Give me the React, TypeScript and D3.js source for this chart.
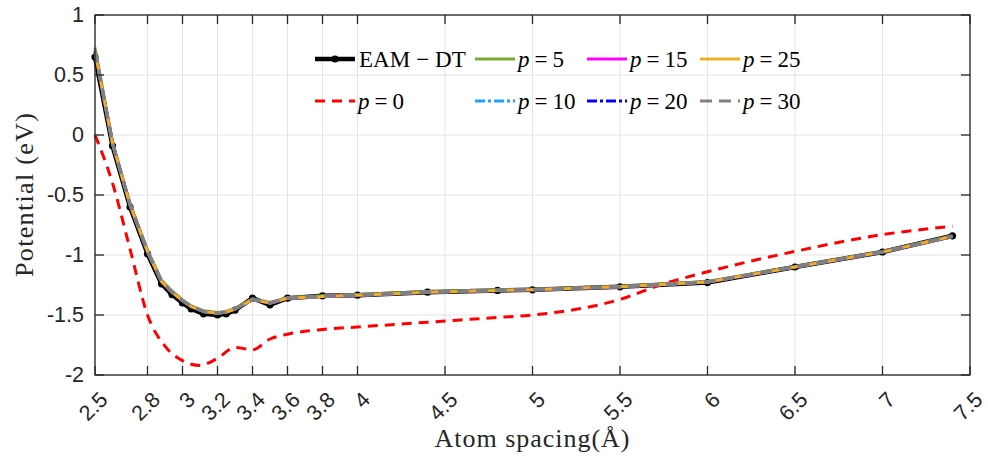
import React from "react";
import * as d3 from "d3";

const xTicks = [2.5, 2.8, 3, 3.2, 3.4, 3.6, 3.8, 4, 4.5, 5, 5.5, 6, 6.5, 7, 7.5];
const yTicks = [1, 0.5, 0, -0.5, -1, -1.5, -2];

const eamX = [2.5, 2.6, 2.7, 2.8, 2.88, 2.94, 3.0, 3.05, 3.12, 3.2, 3.25, 3.3, 3.4, 3.5, 3.6, 3.8, 4.0, 4.4, 4.8, 5.0, 5.5, 6.0, 6.5, 7.0, 7.4];
const eamY = [0.65, -0.09, -0.6, -0.99, -1.24, -1.33, -1.4, -1.45, -1.49, -1.5, -1.49, -1.46, -1.36, -1.415, -1.36, -1.34, -1.335, -1.31, -1.295, -1.29, -1.265, -1.23, -1.1, -0.975, -0.84];

const p0X = [2.5, 2.6, 2.7, 2.8, 2.9, 3.0, 3.1, 3.2, 3.3, 3.4, 3.5, 3.6, 3.8, 4.0, 4.4, 4.8, 5.0, 5.5, 5.75, 6.0, 6.5, 7.0, 7.4];
const p0Y = [0.0, -0.4, -0.95, -1.5, -1.76, -1.88, -1.92, -1.86, -1.77, -1.79, -1.7, -1.66, -1.62, -1.6, -1.56, -1.52, -1.5, -1.37, -1.24, -1.14, -0.97, -0.83, -0.76];

const p5Y = [0.73, -0.06, -0.57, -0.96, -1.21, -1.3, -1.375, -1.425, -1.465, -1.48, -1.47, -1.445, -1.365, -1.395, -1.355, -1.34, -1.33, -1.305, -1.29, -1.285, -1.26, -1.22, -1.095, -0.97, -0.84];
const p10Y = [0.7, -0.07, -0.58, -0.97, -1.22, -1.31, -1.38, -1.43, -1.47, -1.485, -1.475, -1.45, -1.37, -1.4, -1.36, -1.345, -1.335, -1.31, -1.295, -1.29, -1.265, -1.225, -1.1, -0.975, -0.845];
const p15Y = [0.7, -0.07, -0.58, -0.97, -1.22, -1.31, -1.38, -1.43, -1.47, -1.485, -1.475, -1.45, -1.37, -1.4, -1.36, -1.345, -1.335, -1.31, -1.295, -1.29, -1.265, -1.225, -1.1, -0.975, -0.845];
const p20Y = [0.7, -0.07, -0.58, -0.97, -1.22, -1.31, -1.38, -1.43, -1.47, -1.485, -1.475, -1.45, -1.37, -1.4, -1.36, -1.345, -1.335, -1.31, -1.295, -1.29, -1.265, -1.225, -1.1, -0.975, -0.845];
const p25Y = [0.7, -0.07, -0.58, -0.97, -1.22, -1.31, -1.38, -1.43, -1.47, -1.485, -1.475, -1.45, -1.37, -1.4, -1.36, -1.345, -1.335, -1.31, -1.295, -1.29, -1.265, -1.225, -1.1, -0.975, -0.845];
const p30Y = [0.7, -0.07, -0.58, -0.97, -1.22, -1.31, -1.38, -1.43, -1.47, -1.485, -1.475, -1.45, -1.37, -1.4, -1.36, -1.345, -1.335, -1.31, -1.295, -1.29, -1.265, -1.225, -1.1, -0.975, -0.845];

const W = 988;
const H = 465;
const AX = "#262626";
const SERIF = "'Liberation Serif', 'Times New Roman', serif";
const SANS = "'Liberation Sans', Arial, Helvetica, sans-serif";

export default function App() {
  const x = d3.scaleLinear().domain([2.5, 7.5]).range([95, 970]);
  const y = d3.scaleLinear().domain([-2, 1]).range([375, 15]);
  const line = d3
    .line<[number, number]>()
    .x((d) => x(d[0]))
    .y((d) => y(d[1]));
  const smooth = d3
    .line<[number, number]>()
    .x((d) => x(d[0]))
    .y((d) => y(d[1]))
    .curve(d3.curveMonotoneX);
  const zip = (xs: number[], ys: number[]) => xs.map((v, i) => [v, ys[i]] as [number, number]);

  const fitted = [
    { name: "5", ys: p5Y, color: "#77AC30", dash: "", w: 3 },
    { name: "10", ys: p10Y, color: "#1AA3FF", dash: "10,3,3,3", w: 3 },
    { name: "15", ys: p15Y, color: "#FF00FF", dash: "", w: 3 },
    { name: "20", ys: p20Y, color: "#0000FF", dash: "10,3,3,3", w: 3 },
    { name: "25", ys: p25Y, color: "#EDB120", dash: "", w: 3 },
    { name: "30", ys: p30Y, color: "#808080", dash: "12,7", w: 3.5 },
  ];

  const legendItems = [
    { col: 0, row: 0, kind: "eam" },
    { col: 0, row: 1, label: "0", color: "#FF0000", dash: "10,7" },
    { col: 1, row: 0, label: "5", color: "#77AC30", dash: "" },
    { col: 1, row: 1, label: "10", color: "#1AA3FF", dash: "10,3,3,3" },
    { col: 2, row: 0, label: "15", color: "#FF00FF", dash: "" },
    { col: 2, row: 1, label: "20", color: "#0000FF", dash: "10,3,3,3" },
    { col: 3, row: 0, label: "25", color: "#EDB120", dash: "" },
    { col: 3, row: 1, label: "30", color: "#808080", dash: "12,7" },
  ];
  const colX = [315, 475, 587, 700];
  const rowY = [59, 101];

  return (
    <svg
      width={W}
      height={H}
      style={{ position: "absolute", left: 0, top: 0, display: "block", background: "#fff" }}
    >
      <rect x={0} y={0} width={W} height={H} fill="#fff" />
      {/* grid */}
      <g stroke="#e3e3e3" strokeWidth={1}>
        {xTicks.map((t) => (
          <line key={"gx" + t} x1={x(t)} x2={x(t)} y1={y(-2)} y2={y(1)} />
        ))}
        {yTicks.map((t) => (
          <line key={"gy" + t} x1={x(2.5)} x2={x(7.5)} y1={y(t)} y2={y(t)} />
        ))}
      </g>

      {/* EAM-DT */}
      <path d={line(zip(eamX, eamY)) || ""} fill="none" stroke="#000" strokeWidth={4.5} strokeLinejoin="round" />
      {eamX.map((v, i) => (
        <circle key={"m" + i} cx={x(v)} cy={y(eamY[i])} r={3.6} fill="#000" />
      ))}
      {/* p = 0 */}
      <path d={smooth(zip(p0X, p0Y)) || ""} fill="none" stroke="#FF0000" strokeWidth={3} strokeDasharray="10,7" />
      {fitted.map((s) => (
        <path
          key={s.name}
          d={line(zip(eamX, s.ys)) || ""}
          fill="none"
          stroke={s.color}
          strokeWidth={s.w}
          strokeDasharray={s.dash || undefined}
          strokeLinejoin="round"
        />
      ))}

      {/* axes box */}
      <rect x={x(2.5)} y={y(1)} width={x(7.5) - x(2.5)} height={y(-2) - y(1)} fill="none" stroke={AX} strokeWidth={1.3} />
      <g stroke={AX} strokeWidth={1.3}>
        {xTicks.map((t) => (
          <g key={"tx" + t}>
            <line x1={x(t)} x2={x(t)} y1={y(-2)} y2={y(-2) - 9} />
            <line x1={x(t)} x2={x(t)} y1={y(1)} y2={y(1) + 9} />
          </g>
        ))}
        {yTicks.map((t) => (
          <g key={"ty" + t}>
            <line x1={x(2.5)} x2={x(2.5) + 9} y1={y(t)} y2={y(t)} />
            <line x1={x(7.5)} x2={x(7.5) - 9} y1={y(t)} y2={y(t)} />
          </g>
        ))}
      </g>

      {/* tick labels */}
      <g fontFamily={SANS} fontSize={21.5} fill={AX}>
        {yTicks.map((t) => (
          <text key={"ly" + t} x={84} y={y(t)} textAnchor="end" dominantBaseline="central">
            {t}
          </text>
        ))}
        {xTicks.map((t) => (
          <text
            key={"lx" + t}
            transform={`translate(${x(t) + 9},396) rotate(-45)`}
            textAnchor="end"
            dominantBaseline="central"
          >
            {t}
          </text>
        ))}
      </g>

      {/* axis labels */}
      <text
        x={532}
        y={447}
        textAnchor="middle"
        fontFamily={SERIF}
        fontSize={26}
        fill={AX}
        textLength={195}
        lengthAdjust="spacing"
      >
        Atom spacing(Å)
      </text>
      <text
        transform={`translate(33,195) rotate(-90)`}
        textAnchor="middle"
        fontFamily={SERIF}
        fontSize={26}
        fill={AX}
        textLength={164}
        lengthAdjust="spacing"
      >
        Potential (eV)
      </text>

      {/* legend */}
      <g fontFamily={SERIF} fontSize={23} fill="#000">
        {legendItems.map((it, i) => {
          const lx = colX[it.col];
          const ly = rowY[it.row];
          if (it.kind === "eam") {
            return (
              <g key={i}>
                <line x1={lx} x2={lx + 40} y1={ly} y2={ly} stroke="#000" strokeWidth={4.5} />
                <circle cx={lx + 20} cy={ly} r={3.6} fill="#000" />
                <text x={lx + 44} y={ly} dominantBaseline="central">
                  <tspan>EAM</tspan>
                  <tspan dx={6}>−</tspan>
                  <tspan dx={6}>DT</tspan>
                </text>
              </g>
            );
          }
          return (
            <g key={i}>
              <line
                x1={lx}
                x2={lx + 40}
                y1={ly}
                y2={ly}
                stroke={it.color}
                strokeWidth={3}
                strokeDasharray={it.dash || undefined}
              />
              <text x={lx + 43} y={ly} dominantBaseline="central">
                <tspan fontStyle="italic">p</tspan>
                <tspan dx={5}>=</tspan>
                <tspan dx={5}>{it.label}</tspan>
              </text>
            </g>
          );
        })}
      </g>
    </svg>
  );
}
